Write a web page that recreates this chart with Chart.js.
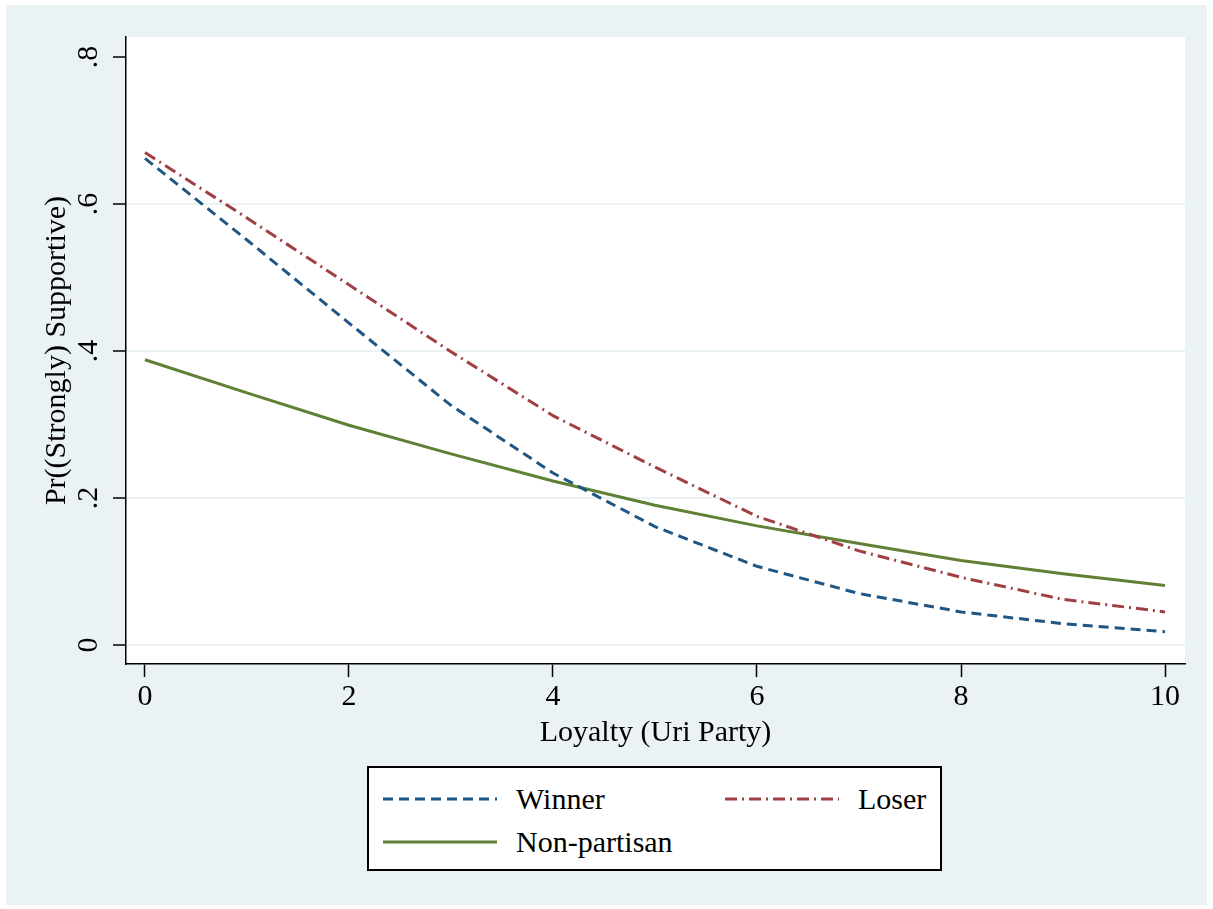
<!doctype html>
<html>

<head>
    <title>Loyalty</title>
    <script src="https://cdn.jsdelivr.net/npm/chart.js"></script>
    <style>
        body { margin: 0; background: #fff; }
        #wrap { position: relative; width: 1213px; height: 909px; }
        #legenda {
            position: absolute; left: 367px; top: 766px; width: 575px; height: 105px;
            box-sizing: border-box; border: 2px solid #000; background: #fff;
            font-family: "Liberation Serif", serif; font-size: 30px; color: #000;
        }
        .item { position: absolute; height: 40px; display: flex; align-items: center; }
        .item span { line-height: 1; }
    </style>
</head>

<body>
    <div id="wrap">
        <canvas id="grafico"></canvas>
        <div id="legenda"></div>
    </div>

    <script>
        const loyalty = [0, 1, 2, 3, 4, 5, 6, 7, 8, 9, 10]
        const winner = [0.662, 0.551, 0.438, 0.326, 0.234, 0.161, 0.107, 0.070, 0.045, 0.029, 0.018]
        const loser = [0.670, 0.581, 0.490, 0.399, 0.312, 0.242, 0.175, 0.128, 0.092, 0.062, 0.045]
        const nonPartisan = [0.388, 0.343, 0.299, 0.260, 0.223, 0.190, 0.162, 0.138, 0.115, 0.097, 0.081]

        const xTicks = [0, 2, 4, 6, 8, 10]
        const xTickLabels = ['0', '2', '4', '6', '8', '10']
        const yTicks = [0, 0.2, 0.4, 0.6, 0.8]
        const yTickLabels = ['0', '.2', '.4', '.6', '.8']

        const azul = '#1f5683'
        const vermelho = '#a03f44'
        const verde = '#5f8035'
        const fonte = 'Liberation Serif'

        const fundoStata = {
            id: 'fundoStata',
            beforeDraw(chart) {
                const { ctx, chartArea: { left, top, width, height } } = chart
                ctx.save()
                ctx.fillStyle = '#eaf2f3'
                ctx.fillRect(6, 5, 1201, 900)
                ctx.fillStyle = '#fff'
                ctx.fillRect(left, top, width, height)
                ctx.restore()
            }
        }

        function serie(label, valores, cor, dash) {
            return {
                label: label,
                data: loyalty.map((x, i) => ({ x: x, y: valores[i] })),
                borderColor: cor,
                backgroundColor: cor,
                borderWidth: 3,
                borderDash: dash,
                pointRadius: 0,
                tension: 0
            }
        }

        new Chart(document.getElementById('grafico'), {
            type: 'line',
            data: {
                datasets: [
                    serie('Winner', winner, azul, [10, 6]),
                    serie('Loser', loser, vermelho, [12, 5, 2, 5]),
                    serie('Non-partisan', nonPartisan, verde, [])
                ]
            },
            options: {
                responsive: true,
                maintainAspectRatio: false,
                animation: false,
                layout: { padding: { top: 37, right: 28, left: 0, bottom: 0 } },
                plugins: { legend: { display: false }, tooltip: { enabled: false } },
                scales: {
                    x: {
                        type: 'linear',
                        min: -0.186,
                        max: 10.196,
                        afterBuildTicks: s => { s.ticks = xTicks.map(v => ({ value: v })) },
                        afterFit: s => { s.height = 245 },
                        border: { display: true, color: '#000', width: 1.5 },
                        grid: { drawOnChartArea: false, tickLength: 13, tickColor: '#000', tickWidth: 1.5 },
                        ticks: {
                            maxRotation: 0, padding: 2, color: '#000',
                            font: { family: fonte, size: 30 },
                            callback: v => xTickLabels[xTicks.indexOf(v)]
                        },
                        title: {
                            display: true, text: 'Loyalty (Uri Party)', color: '#000',
                            font: { family: fonte, size: 30 },
                            padding: { top: 0, bottom: 158 }
                        }
                    },
                    y: {
                        min: -0.0259,
                        max: 0.8272,
                        afterBuildTicks: s => { s.ticks = yTicks.map(v => ({ value: v })) },
                        afterFit: s => { s.width = 126 },
                        border: { display: true, color: '#000', width: 1.5 },
                        grid: {
                            color: c => (c.tick && c.tick.value === 0.8) ? 'rgba(0,0,0,0)' : '#eaf2f3',
                            lineWidth: 2, tickLength: 13, tickColor: '#000', tickWidth: 1.5
                        },
                        ticks: {
                            minRotation: 90, maxRotation: 90, crossAlign: 'center', padding: 13, color: '#000',
                            font: { family: fonte, size: 30 },
                            callback: v => yTickLabels[yTicks.indexOf(v)]
                        },
                        title: {
                            display: true, text: 'Pr((Strongly) Supportive)', color: '#000',
                            font: { family: fonte, size: 30 },
                            padding: { top: 39, bottom: 0 }
                        }
                    }
                }
            },
            plugins: [fundoStata]
        })

        // legenda em html, duas colunas como no stata
        const itensLegenda = [
            { texto: 'Winner', cor: azul, dash: '10 6', esq: 14, linha: 31 },
            { texto: 'Loser', cor: vermelho, dash: '12 5 2 5', esq: 356, linha: 31 },
            { texto: 'Non-partisan', cor: verde, dash: '', esq: 14, linha: 74 }
        ]
        const legenda = document.getElementById('legenda')
        itensLegenda.forEach(it => {
            const div = document.createElement('div')
            div.className = 'item'
            div.style.left = it.esq + 'px'
            div.style.top = (it.linha - 20) + 'px'
            div.innerHTML =
                '<svg width="114" height="6" style="margin-right:19px"><line x1="0" y1="3" x2="114" y2="3" stroke="' +
                it.cor + '" stroke-width="3" stroke-dasharray="' + it.dash + '"/></svg><span>' + it.texto + '</span>'
            legenda.appendChild(div)
        })
    </script>
</body>

</html>
